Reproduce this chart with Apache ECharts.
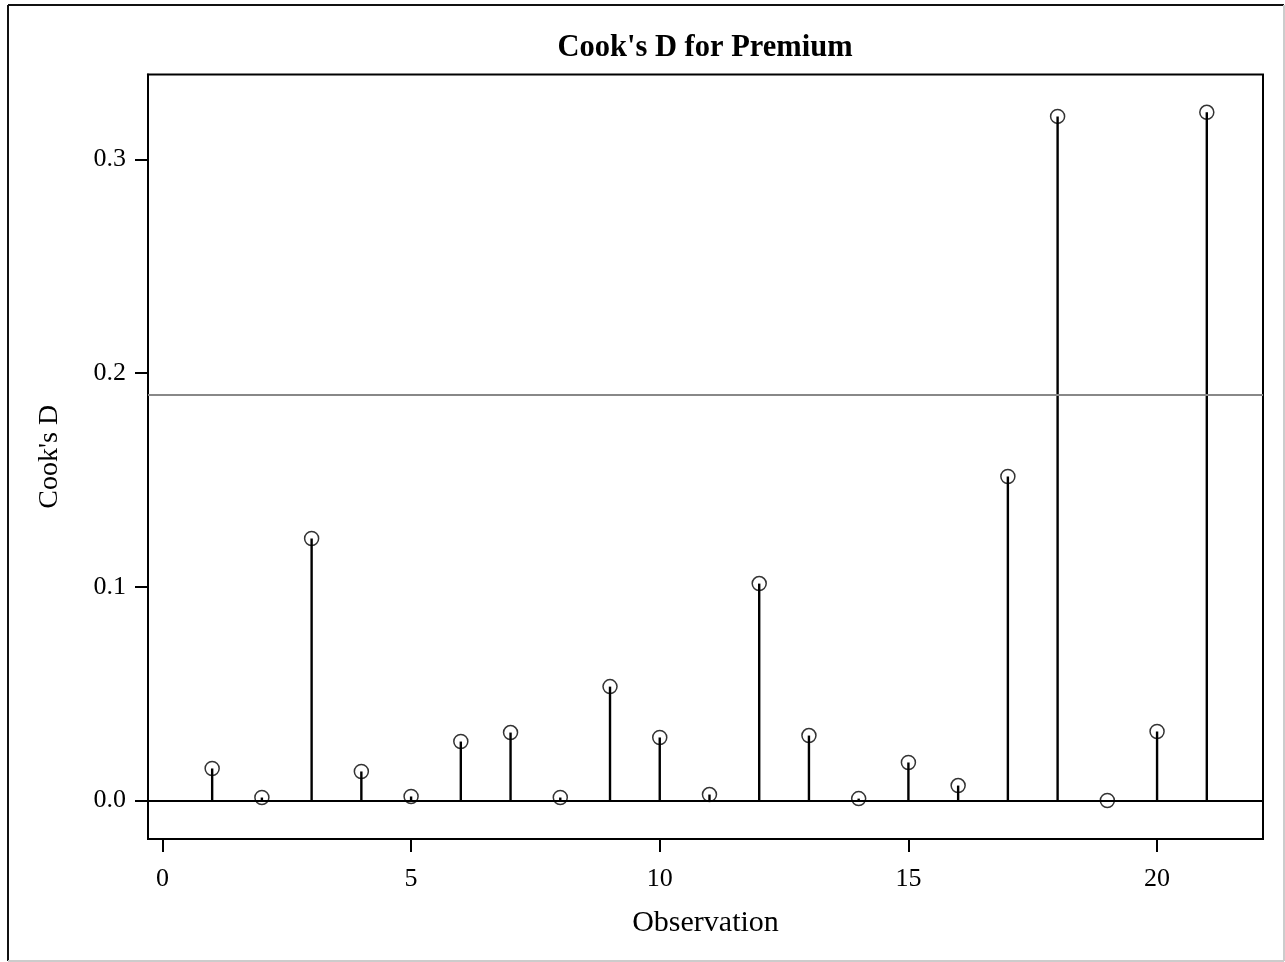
<!DOCTYPE html>
<html>
<head>
<meta charset="utf-8">
<script src="https://cdn.jsdelivr.net/npm/echarts@6/dist/echarts.min.js"></script>
<style>
html,body{margin:0;padding:0;background:#fff;}
#chart{width:1285px;height:962px;}
</style>
</head>
<body>
<div id="chart"></div>
<script>
const observations = [1,2,3,4,5,6,7,8,9,10,11,12,13,14,15,16,17,18,19,20,21];
const cooksD = [0.0150,0.0014,0.1226,0.0136,0.0019,0.0276,0.0318,0.0014,0.0533,0.0295,0.0028,0.1015,0.0304,0.0009,0.0178,0.0070,0.1516,0.3201,0.0000,0.0323,0.3220];
const cutoff = 4/21;
const xTicks = [0,5,10,15,20];
const yTicks = [0,0.1,0.2,0.3];
const titleText = "Cook's D for Premium";
const xName = "Observation";
const yName = "Cook's D";

const pts = observations.map((o,i)=>[o,cooksD[i]]);
const font = "'Liberation Serif','Times New Roman',serif";

const chart = echarts.init(document.getElementById('chart'), null, {renderer:'canvas'});
chart.setOption({
  animation:false,
  backgroundColor:'#fff',
  title:{text:titleText,left:700,top:28,textAlign:'center',
    textStyle:{fontFamily:font,fontSize:30.5,fontWeight:'bold',color:'#000'}},
  graphic:[
    {type:'line',shape:{x1:8,y1:5,x2:8,y2:961},style:{stroke:'#111',lineWidth:2}},
    {type:'line',shape:{x1:8,y1:5,x2:1284,y2:5},style:{stroke:'#111',lineWidth:2}},
    {type:'line',shape:{x1:1284,y1:5,x2:1284,y2:961},style:{stroke:'#ccc',lineWidth:2}},
    {type:'line',shape:{x1:8,y1:961,x2:1284,y2:961},style:{stroke:'#ccc',lineWidth:2}}
  ],
  grid:{left:148,top:74.5,right:22,bottom:123,show:true,borderColor:'#000',borderWidth:2,backgroundColor:'transparent'},
  xAxis:{type:'value',min:-0.29,max:22.13,
    name:xName,nameLocation:'middle',nameGap:69,
    nameTextStyle:{fontFamily:font,fontSize:30,color:'#000'},
    axisLine:{show:true,onZero:false,lineStyle:{color:'#000',width:2}},
    axisTick:{show:true,inside:false,length:13,customValues:xTicks,lineStyle:{color:'#000',width:2}},
    axisLabel:{customValues:xTicks,fontFamily:font,fontSize:26,color:'#000',margin:27},
    splitLine:{show:false}},
  yAxis:{type:'value',min:-0.018,max:0.3397,
    name:yName,nameLocation:'middle',nameGap:84,nameRotate:90,
    nameTextStyle:{fontFamily:font,fontSize:28,color:'#000'},
    axisLine:{show:true,onZero:false,lineStyle:{color:'#000',width:2}},
    axisTick:{show:true,inside:false,length:13,customValues:yTicks,lineStyle:{color:'#000',width:2}},
    axisLabel:{customValues:yTicks,formatter:v=>v.toFixed(1),fontFamily:font,fontSize:26,color:'#000',margin:22},
    splitLine:{show:false}},
  series:[
    {type:'custom',
      data:pts,
      renderItem:function(params,api){
        const x=api.value(0), y=api.value(1);
        const p0=api.coord([x,0]), p1=api.coord([x,y]);
        return {type:'line',shape:{x1:p0[0],y1:p0[1],x2:p1[0],y2:p1[1]},
          style:{stroke:'#000',lineWidth:2.4}};
      },
      markLine:{silent:true,symbol:'none',label:{show:false},
        data:[
          {yAxis:0,lineStyle:{color:'#000',width:2,type:'solid'}},
          {yAxis:cutoff,lineStyle:{color:'#888',width:2,type:'solid'}}
        ]},
      z:2},
    {type:'scatter',data:pts,symbol:'circle',symbolSize:14,
      itemStyle:{color:'rgba(0,0,0,0)',borderColor:'#000',borderWidth:1.5},z:3}
  ]
});
</script>
</body>
</html>
